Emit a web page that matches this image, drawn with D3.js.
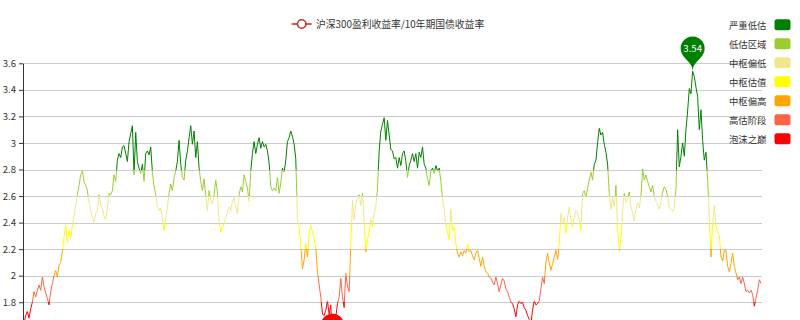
<!DOCTYPE html>
<html><head><meta charset="utf-8">
<script src="https://cdn.jsdelivr.net/npm/d3@7"></script>
<style>
html,body{margin:0;padding:0;background:#fff;overflow:hidden}
svg{display:block}
text{font-family:"Noto Sans CJK SC","Noto Sans",sans-serif}
</style>
</head><body>
<svg id="chart" width="800" height="320"></svg>
<script>
// ---------- data ----------
const seriesName = "沪深300盈利收益率/10年期国债收益率";
const yTicks = [1.8, 2.0, 2.2, 2.4, 2.6, 2.8, 3.0, 3.2, 3.4, 3.6];
const pieceLabels = ["严重低估", "低估区域", "中枢偏低", "中枢估值", "中枢偏高", "高估阶段", "泡沫之巅"];
const pieceMin = [2.8, 2.6, 2.4, 2.2, 2.0, 1.8, null];
const pieceMax = [null, 2.8, 2.6, 2.4, 2.2, 2.0, 1.8];
const pieceColors = ["#008000", "#9acd32", "#f0e68c", "#ffff00", "#ffa500", "#ff6347", "#ff0000"];
const legendColor = "#c23531";

const values = [
  // part 1
  1.64,1.70,1.73,1.68,1.75,1.80,1.88,1.84,1.89,1.93,
  1.89,1.99,1.92,1.87,1.83,1.78,1.88,1.94,2.00,2.04,
  1.99,2.08,2.10,2.18,2.29,2.38,2.25,2.34,2.28,2.38,
  2.45,2.53,2.61,2.68,2.76,2.79,2.71,2.68,2.64,2.55,
  2.50,2.44,2.40,2.47,2.49,2.61,2.53,2.50,2.45,2.42,
  2.51,2.62,2.61,2.64,2.76,2.71,2.87,2.92,2.89,2.97,
  2.98,2.92,2.86,3.01,3.07,3.13,2.76,3.08,2.86,2.81,
  2.77,2.84,2.71,2.92,2.94,2.91,2.97,2.78,2.67,2.61,
  2.53,2.49,2.51,2.44,2.34,2.43,2.52,2.62,2.69,2.64,
  2.74,
  // part 2
  2.79,2.86,3.02,2.84,2.74,2.72,2.87,2.94,3.04,3.13,
  2.99,3.09,2.89,3.01,2.81,2.71,2.64,2.73,2.60,2.49,
  2.64,2.57,2.54,2.61,2.72,2.63,2.42,2.33,2.37,2.39,
  2.44,2.47,2.52,2.49,2.56,2.59,2.52,2.47,2.61,2.67,
  2.63,2.76,2.71,2.66,2.56,2.79,2.92,3.01,2.92,2.99,
  3.04,2.96,3.01,2.97,2.99,2.94,2.85,2.67,2.64,2.66,
  2.64,2.74,2.62,2.70,2.81,2.78,2.87,3.01,3.04,3.09,
  3.05,2.99,2.88,2.43,2.37,2.24,2.05,2.12,2.24,2.14,
  2.32,2.38,2.33,2.28,2.21,2.03,1.93,1.84,1.71,
  // part 3
  1.70,1.74,1.81,1.71,1.78,1.45,1.68,1.69,1.79,1.84,
  1.98,1.84,1.76,2.02,1.92,1.88,2.24,2.57,2.42,2.54,
  2.59,2.61,2.53,2.62,2.42,2.18,2.27,2.32,2.43,2.37,
  2.47,2.52,2.66,2.94,3.09,3.14,3.19,3.02,3.17,3.06,
  2.95,2.94,2.88,2.89,2.81,2.89,2.83,2.92,2.94,2.86,
  2.74,2.83,2.87,2.92,2.86,2.92,2.81,2.93,2.89,2.97,
  2.84,2.81,2.73,2.68,2.79,2.81,2.77,2.83,2.79,2.81,
  2.71,2.58,2.49,2.39,2.33,2.27,2.50,2.34,2.37,2.24,
  2.17,2.14,2.18,2.15,2.19,2.17,2.24,2.18,2.19,2.15,
  2.12,
  // part 4
  2.17,2.19,2.13,2.07,2.14,2.07,2.03,2.02,1.99,1.98,
  1.95,1.93,1.99,1.94,1.88,1.93,1.98,1.96,1.90,1.88,
  1.84,1.80,1.79,1.75,1.69,1.78,1.81,1.79,1.80,1.76,
  1.74,1.70,1.67,1.64,1.74,1.81,1.78,1.79,1.81,1.90,
  1.99,1.94,2.10,2.17,2.10,2.04,2.09,2.14,2.19,2.12,
  2.24,2.47,2.40,2.44,2.32,2.44,2.52,2.42,2.37,2.44,
  2.49,2.47,2.42,2.34,2.62,2.64,2.59,2.66,2.72,2.78,
  2.72,2.84,2.87,3.00,3.11,3.06,3.08,2.99,2.93,2.84,
  2.62,2.50,2.59,2.52,2.68,2.36,2.19,2.27,2.49,2.62,
  // part 5
  2.55,2.58,2.63,2.52,2.47,2.41,2.50,2.55,2.51,2.60,
  2.80,2.72,2.76,2.71,2.67,2.63,2.68,2.60,2.56,2.53,
  2.50,2.56,2.63,2.67,2.65,2.60,2.51,2.50,2.48,2.52,
  2.65,3.10,2.82,2.90,3.00,2.90,3.10,3.24,3.41,3.37,
  3.54,3.50,3.42,3.35,3.10,3.25,3.02,2.87,2.93,2.72,
  2.45,2.14,2.40,2.53,2.38,2.33,2.30,2.14,2.11,2.19,
  2.19,2.07,2.03,2.09,2.17,2.07,2.02,1.97,1.99,1.94,
  1.99,1.94,1.88,1.89,1.87,1.89,1.86,1.77,1.83,1.89,
  1.97,1.94
];

// ---------- layout ----------
const gridLeft = 23, gridRight = 762;
const svg = d3.select("#chart");

const x = d3.scaleLinear().domain([0, values.length - 1]).range([24, 761]);
const y = d3.scaleLinear().domain([1.4, 3.6]).range([355.35, 63.3]);
const fmt = v => String(+v.toFixed(1));
const colorFor = v => {
  for (let i = 0; i < pieceColors.length; i++) {
    const lo = pieceMin[i] == null ? -Infinity : pieceMin[i];
    const hi = pieceMax[i] == null ? Infinity : pieceMax[i];
    if (v >= lo && v <= hi) return pieceColors[i];
  }
  return pieceColors[pieceColors.length - 1];
};

// grid lines
svg.append("g").selectAll("line").data(yTicks).join("line")
  .attr("x1", gridLeft).attr("x2", gridRight)
  .attr("y1", d => Math.round(y(d)) + 0.5).attr("y2", d => Math.round(y(d)) + 0.5)
  .attr("stroke", "#ccc").attr("stroke-width", 1);

// y axis
const axis = d3.axisLeft(y).tickValues(yTicks).tickFormat(fmt).tickSize(4).tickSizeOuter(0).tickPadding(3);
const ag = svg.append("g").attr("transform", `translate(${gridLeft},0)`).call(axis);
ag.select(".domain").attr("stroke", "#333");
ag.selectAll(".tick line").attr("stroke", "#333");
ag.selectAll(".tick text").attr("fill", "#333").style("font-size", "9.6px")
  .style("font-family", '"Noto Sans CJK SC","Noto Sans",sans-serif');

// gradient (visualMap pieces)
const defs = svg.append("defs");
const yTop = y(3.6), yBot = y(1.4);
const grad = defs.append("linearGradient").attr("id", "vm")
  .attr("gradientUnits", "userSpaceOnUse")
  .attr("x1", 0).attr("x2", 0).attr("y1", yTop).attr("y2", yBot);
const off = v => Math.max(0, Math.min(1, (y(v) - yTop) / (yBot - yTop)));
pieceColors.forEach((c, i) => {
  const o1 = pieceMax[i] == null ? 0 : off(pieceMax[i]);
  const o2 = pieceMin[i] == null ? 1 : off(pieceMin[i]);
  grad.append("stop").attr("offset", o1).attr("stop-color", c);
  grad.append("stop").attr("offset", o2).attr("stop-color", c);
});

// line
const line = d3.line().x((d, i) => x(i)).y(d => y(d));
svg.append("path").datum(values).attr("d", line)
  .attr("fill", "none").attr("stroke", "url(#vm)").attr("stroke-width", 1)
  .attr("stroke-linejoin", "round");

// mark points (pin)
function pinPath(px, py, size) {
  const w = size / 5 * 3, h = Math.max(w, size), r = w / 2;
  const dy = r * r / (h - r);
  const cy = py - h + r + dy;
  const ang = Math.asin(dy / r);
  const dx = Math.cos(ang) * r;
  const tanX = Math.sin(ang), tanY = Math.cos(ang);
  const cp = r * 0.6, cp2 = r * 0.7;
  const p = d3.path();
  p.moveTo(px - dx, cy + dy);
  p.arc(px, cy, r, Math.PI - ang, Math.PI * 2 + ang);
  p.bezierCurveTo(px + dx - tanX * cp, cy + dy + tanY * cp, px, py - cp2, px, py);
  p.bezierCurveTo(px, py - cp2, px - dx + tanX * cp, cy + dy + tanY * cp, px - dx, cy + dy);
  p.closePath();
  return { d: p.toString(), cy };
}
const mg = svg.append("g");
const iMax = d3.maxIndex(values), iMin = d3.minIndex(values);
[iMax, iMin].forEach(i => {
  const v = values[i];
  const pp = pinPath(x(i), y(v), 40);
  mg.append("path").attr("d", pp.d).attr("fill", colorFor(v));
  if (i === iMax) {
    mg.append("text").attr("x", x(i)).attr("y", pp.cy).attr("text-anchor", "middle")
      .attr("dominant-baseline", "central").attr("fill", "#fff").style("font-size", "9.6px")
      .text(v.toFixed(2));
  }
});

// legend
const lg = svg.append("g");
lg.append("line").attr("x1", 291.7).attr("x2", 311.7).attr("y1", 24).attr("y2", 24)
  .attr("stroke", legendColor).attr("stroke-width", 1.6);
lg.append("circle").attr("cx", 301.7).attr("cy", 24).attr("r", 4.2)
  .attr("fill", "#fff").attr("stroke", legendColor).attr("stroke-width", 1.6);
lg.append("text").attr("x", 316).attr("y", 24).attr("dominant-baseline", "central")
  .attr("fill", "#333").style("font-size", "9.8px").text(seriesName);

// visual map pieces
const vg = svg.append("g");
pieceLabels.forEach((lab, i) => {
  const cy = 24.7 + i * 19;
  vg.append("text").attr("x", 766.5).attr("y", cy).attr("text-anchor", "end")
    .attr("dominant-baseline", "central").attr("fill", "#333").style("font-size", "9.4px").text(lab);
  vg.append("rect").attr("x", 774.5).attr("y", cy - 5.5).attr("width", 16).attr("height", 11)
    .attr("rx", 2.5).attr("fill", pieceColors[i]);
});
</script>
</body></html>
